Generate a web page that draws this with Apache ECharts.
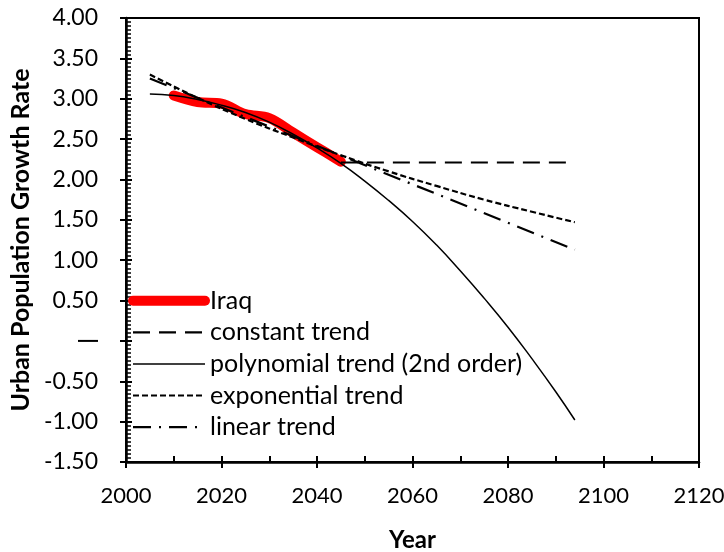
<!DOCTYPE html>
<html>
<head>
<meta charset="utf-8">
<script src="https://cdn.jsdelivr.net/npm/echarts@6/dist/echarts.min.js"></script>
<style>html,body{margin:0;padding:0;background:#fff}#c{width:724px;height:552px}</style>
</head>
<body>
<div id="c"></div>
<script>
// Data
const iraqYears = [2010, 2015, 2020, 2025, 2030, 2035, 2040, 2045];
const iraqValues = [3.04, 2.96, 2.94, 2.81, 2.76, 2.58, 2.40, 2.22];

const constantYears = [2045, 2094];
const constantValues = [2.21, 2.21];

const polyYears = [2005, 2010, 2015, 2020, 2025, 2030, 2035, 2040, 2045, 2050, 2055, 2060, 2065, 2070, 2075, 2080, 2085, 2090, 2094];
const polyValues = [3.06, 3.04, 2.99, 2.92, 2.83, 2.71, 2.56, 2.39, 2.20, 1.98, 1.74, 1.48, 1.19, 0.87, 0.53, 0.17, -0.22, -0.63, -0.98];

const expYears = [2005, 2015, 2025, 2035, 2045, 2055, 2065, 2075, 2085, 2094];
const expValues = [3.30, 3.01, 2.75, 2.52, 2.30, 2.10, 1.92, 1.75, 1.60, 1.47];

const linYears = [2005, 2094];
const linValues = [3.25, 1.13];

const seriesNames = ['Iraq', 'constant trend', 'polynomial trend (2nd order)', 'exponential trend', 'linear trend'];

const xTitle = 'Year';
const yTitle = 'Urban Population Growth Rate';

function pairs(xs, ys) { return xs.map((x, i) => [x, ys[i]]); }

const FONT = 'Lato';
const chart = echarts.init(document.getElementById('c'), null, { renderer: 'canvas' });

const styles = {
  iraq: { color: '#ff0000', width: 10, type: 'solid', cap: 'round', join: 'round' },
  constant: { color: '#000', width: 2.2, type: [17, 9] },
  poly: { color: '#000', width: 1.5, type: 'solid' },
  exp: { color: '#000', width: 2.2, type: [6, 3] },
  lin: { color: '#000', width: 2.2, type: [18, 8, 2, 8] }
};
const hidden = { color: 'rgba(0,0,0,0)', borderColor: 'rgba(0,0,0,0)', borderWidth: 0 };

function yLabel(v) {
  if (Math.abs(v) < 1e-9) return '{d|}';
  return v.toFixed(2);
}

const axisCommonX = { type: 'value', min: 2000, max: 2120, interval: 20, gridIndex: 0 };
const axisCommonY = { type: 'value', min: -1.5, max: 4, interval: 0.5, gridIndex: 0 };

const option = {
  backgroundColor: '#fff',
  animation: false,
  grid: { left: 126, right: 25, top: 18, bottom: 90, show: true, borderColor: '#000', borderWidth: 2, containLabel: false, outerBoundsMode: 'none' },
  legend: {
    orient: 'vertical',
    left: 128,
    top: 288.2,
    padding: 0,
    itemWidth: 72,
    itemHeight: 14,
    itemGap: 6.6,
    itemStyle: hidden,
    textStyle: { fontFamily: FONT, fontSize: 25, color: '#000', lineHeight: 24 },
    data: [
      { name: seriesNames[0], lineStyle: styles.iraq, itemStyle: hidden },
      { name: seriesNames[1], lineStyle: styles.constant, itemStyle: hidden },
      { name: seriesNames[2], lineStyle: styles.poly, itemStyle: hidden },
      { name: seriesNames[3], lineStyle: styles.exp, itemStyle: hidden },
      { name: seriesNames[4], lineStyle: styles.lin, itemStyle: hidden }
    ]
  },
  xAxis: [
    Object.assign({}, axisCommonX, {
      position: 'bottom',
      name: xTitle,
      nameLocation: 'middle',
      nameGap: 66,
      nameTextStyle: { fontFamily: FONT, fontSize: 24, fontWeight: 'bold', color: '#000' },
      axisLine: { show: true, onZero: false, lineStyle: { color: '#000', width: 2.5 } },
      axisTick: { show: true, inside: false, length: 6, lineStyle: { color: '#000', width: 2 } },
      axisLabel: { show: true, margin: 23, fontFamily: FONT, fontSize: 22, color: '#000', formatter: v => String(v) },
      splitLine: { show: false }
    }),
    Object.assign({}, axisCommonX, {
      position: 'bottom',
      axisLine: { show: false, onZero: false },
      axisTick: { show: true, inside: true, length: 6, lineStyle: { color: '#000', width: 2 } },
      minorTick: { show: true, splitNumber: 2, length: 6, lineStyle: { color: '#000', width: 2 } },
      axisLabel: { show: false },
      splitLine: { show: false }
    })
  ],
  yAxis: [
    Object.assign({}, axisCommonY, {
      position: 'left',
      name: yTitle,
      nameLocation: 'middle',
      nameGap: 82,
      nameRotate: 90,
      nameTextStyle: { fontFamily: FONT, fontSize: 25, fontWeight: 'bold', color: '#000' },
      axisLine: { show: true, onZero: false, lineStyle: { color: '#000', width: 2.5 } },
      axisTick: { show: true, inside: false, length: 6, lineStyle: { color: '#000', width: 2 } },
      axisLabel: {
        show: true, margin: 28, fontFamily: FONT, fontSize: 23, color: '#000', formatter: yLabel,
        rich: { d: { width: 20, height: 2, backgroundColor: '#000', padding: 0 } }
      },
      splitLine: { show: false }
    }),
    Object.assign({}, axisCommonY, {
      position: 'left',
      axisLine: { show: false, onZero: false },
      axisTick: { show: true, inside: true, length: 6, lineStyle: { color: '#000', width: 2 } },
      minorTick: { show: true, splitNumber: 10, length: 5, lineStyle: { color: '#000', width: 1.5 } },
      axisLabel: { show: false },
      splitLine: { show: false }
    })
  ],
  series: [
    { name: seriesNames[0], type: 'line', data: pairs(iraqYears, iraqValues), smooth: 0.35, symbol: 'none', lineStyle: styles.iraq, itemStyle: { color: '#ff0000' }, z: 1 },
    { name: seriesNames[1], type: 'line', data: pairs(constantYears, constantValues), symbol: 'none', lineStyle: styles.constant, itemStyle: { color: '#000' }, z: 3 },
    { name: seriesNames[2], type: 'line', data: pairs(polyYears, polyValues), smooth: true, symbol: 'none', lineStyle: styles.poly, itemStyle: { color: '#000' }, z: 3 },
    { name: seriesNames[3], type: 'line', data: pairs(expYears, expValues), smooth: true, symbol: 'none', lineStyle: styles.exp, itemStyle: { color: '#000' }, z: 3 },
    { name: seriesNames[4], type: 'line', data: pairs(linYears, linValues), symbol: 'none', lineStyle: styles.lin, itemStyle: { color: '#000' }, z: 3 }
  ]
};
chart.setOption(option);
</script>
</body>
</html>
